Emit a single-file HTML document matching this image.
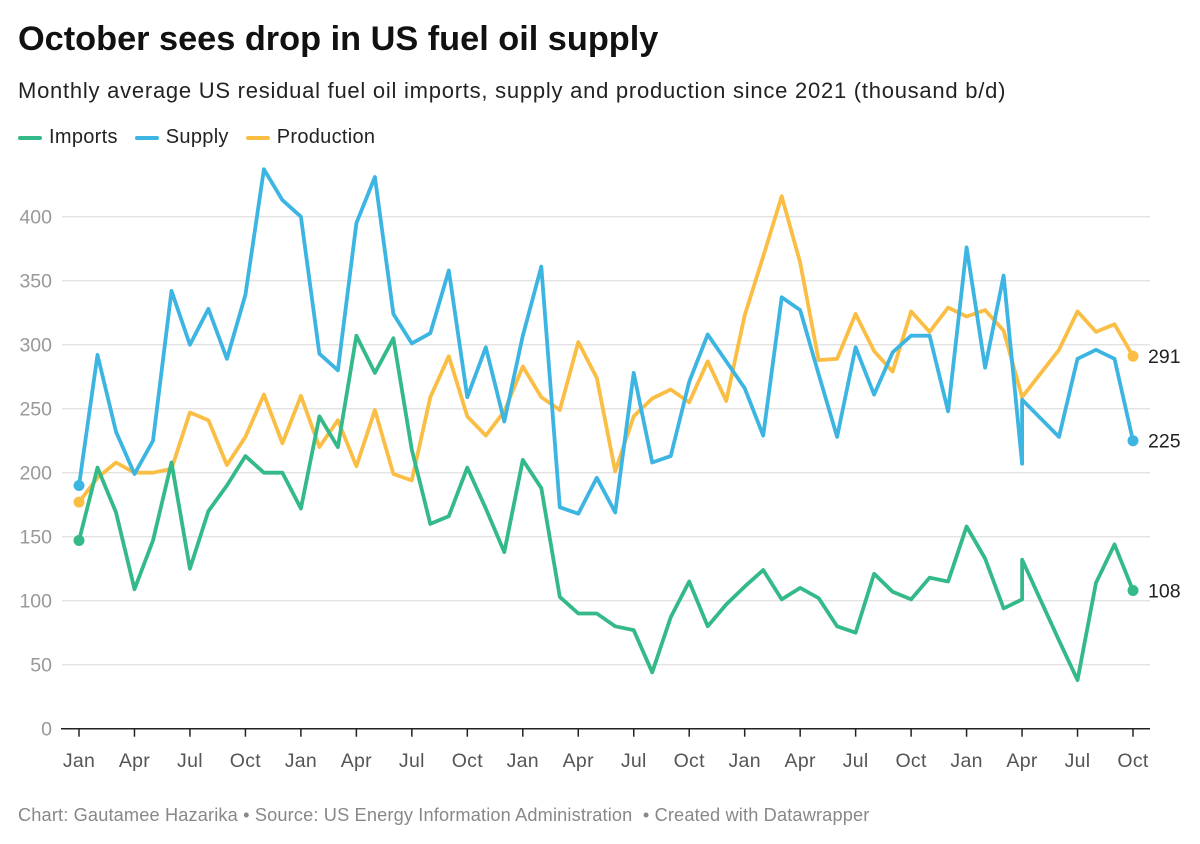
<!DOCTYPE html>
<html><head><meta charset="utf-8"><style>
body{margin:0;background:#fff;width:1200px;height:844px;overflow:hidden;font-family:"Liberation Sans",sans-serif;}
#title{position:absolute;left:18px;top:20px;font-size:34.3px;font-weight:bold;color:#111;}
#sub{position:absolute;left:18px;top:78px;font-size:22px;color:#222;letter-spacing:0.75px}
#legend{position:absolute;left:18px;top:126px;font-size:20px;color:#222;display:flex;letter-spacing:0.3px}
.le{display:flex;align-items:center;margin-right:17px}
.sw{width:24px;height:4px;border-radius:2px;margin-right:7px}
#foot{position:absolute;left:18px;top:805px;font-size:18.2px;color:#888;letter-spacing:0.15px}
svg{position:absolute;left:0;top:0}
</style></head><body>
<div id="title">October sees drop in US fuel oil supply</div>
<div id="sub">Monthly average US residual fuel oil imports, supply and production since 2021 (thousand b/d)</div>
<div id="legend">
<div class="le"><div class="sw" style="background:#34b989"></div>Imports</div>
<div class="le"><div class="sw" style="background:#3db5e2"></div>Supply</div>
<div class="le"><div class="sw" style="background:#fbbe45"></div>Production</div>
</div>
<svg id="chart" width="1200" height="844"></svg>
<div id="foot">Chart: Gautamee Hazarika • Source: US Energy Information Administration &nbsp;• Created with Datawrapper</div>
<script>
const months=[0,1,2,3,4,5,6,7,8,9,10,11,12,13,14,15,16,17,18,19,20,21,22,23,24,25,26,27,28,29,30,31,32,33,34,35,36,37,38,39,40,41,42,43,44,45,46,47,48,49,50,51,51,53,54,55,56,57];
const imports=[147,204,169,109,147,208,125,170,190,213,200,200,172,244,220,307,278,305,218,160,166,204,172,138,210,188,103,90,90,80,77,44,87,115,80,97,111,124,101,110,102,80,75,121,107,101,118,115,158,133,94,101,132,69,38,114,144,108];
const supply=[190,292,232,199,225,342,300,328,289,339,437,413,400,293,280,395,431,324,301,309,358,259,298,240,307,361,173,168,196,169,278,208,213,271,308,287,266,229,337,327,277,228,298,261,294,307,307,248,376,282,354,207,257,228,289,296,289,225];
const production=[177,196,208,200,200,203,247,241,206,228,261,223,260,220,241,205,249,199,194,259,291,244,229,248,283,259,249,302,274,201,244,258,265,255,287,256,323,369,416,364,288,289,324,295,279,326,310,329,322,327,311,259,259,296,326,310,316,291];
const yTicks=[0,50,100,150,200,250,300,350,400];
const xTickMonths=[0,3,6,9,12,15,18,21,24,27,30,33,36,39,42,45,48,51,54,57];
const xTickLabels=["Jan","Apr","Jul","Oct","Jan","Apr","Jul","Oct","Jan","Apr","Jul","Oct","Jan","Apr","Jul","Oct","Jan","Apr","Jul","Oct"];
const NS="http://www.w3.org/2000/svg";
const svg=document.getElementById('chart');
const x=m=>79+m*(1133-79)/57;
const y=v=>728.7-v*1.28;
function mk(t,a){const e=document.createElementNS(NS,t);for(const k in a)e.setAttribute(k,a[k]);svg.appendChild(e);return e;}
yTicks.forEach(v=>{
  if(v>0){const g=mk('line',{x1:62,x2:1150,y1:y(v),y2:y(v),stroke:'#e3e3e3','stroke-width':1.3});
  
  }
  const t=mk('text',{x:52,y:y(v)+7,'text-anchor':'end','font-size':19.5,fill:'#999','font-family':'Liberation Sans, sans-serif'});
  t.textContent=v;
  
  
});
const base=mk('line',{x1:61,x2:1150,y1:y(0),y2:y(0),stroke:'#222','stroke-width':1.5});


xTickMonths.forEach((m,i)=>{
  const tk=mk('line',{x1:x(m),x2:x(m),y1:y(0),y2:y(0)+8,stroke:'#222','stroke-width':1.5});
  
  
  const t=mk('text',{x:x(m),y:767,'text-anchor':'middle','font-size':19.5,fill:'#555','font-family':'Liberation Sans, sans-serif','letter-spacing':0.3});
  t.textContent=xTickLabels[i];
  
  
});
function series(vals,color,name){
  const d=vals.map((v,i)=>(i?'L':'M')+x(months[i]).toFixed(1)+','+y(v).toFixed(1)).join(' ');
  const p=mk('path',{d:d,fill:'none',stroke:color,'stroke-width':3.8,'stroke-linejoin':'round','stroke-linecap':'round'});
  
  
  [0,vals.length-1].forEach(i=>{
    const c=mk('circle',{cx:x(months[i]),cy:y(vals[i]),r:5.5,fill:color});
    
    
  });
  const last=vals[vals.length-1];
  const t=mk('text',{x:1148,y:y(last)+7,'font-size':19.5,fill:'#222','font-family':'Liberation Sans, sans-serif'});
  t.textContent=last;
  
  
}
series(production,'#fbbe45','production');
series(supply,'#3db5e2','supply');
series(imports,'#34b989','imports');
</script>
</body></html>
